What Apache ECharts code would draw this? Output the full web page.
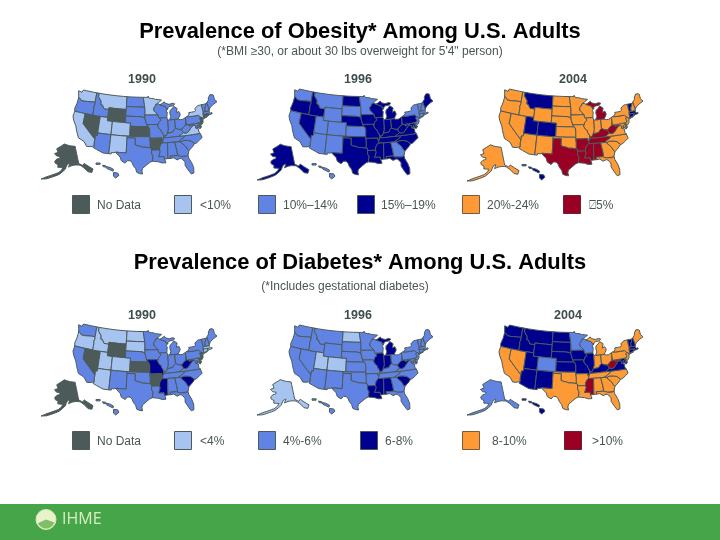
<!DOCTYPE html>
<html><head><meta charset="utf-8">
<style>html,body{margin:0;padding:0;background:#fff}#c{width:720px;height:540px}</style>
<script src="https://cdn.jsdelivr.net/npm/echarts@6/dist/echarts.min.js"></script>
</head><body><div id="c"></div>
<script>
// ---------- data (class index per state) ----------
const stateCodes = ['AL','AK','AZ','AR','CA','CO','CT','DE','FL','GA','HI','ID','IL','IN','IA','KS','KY','LA','ME','MD','MA','MI','MN','MS','MO','MT','NE','NV','NH','NJ','NM','NY','NC','ND','OH','OK','OR','PA','RI','SC','SD','TN','TX','UT','VT','VA','WA','WV','WI','WY'];
const obesity1990  = [2,0,2,0,1,1,0,0,2,2,2,2,2,2,2,0,2,2,2,2,2,2,1,2,2,1,2,0,2,0,1,1,2,2,2,2,2,2,0,2,2,2,2,1,2,1,1,2,2,0];
const obesity1996  = [3,3,2,3,2,2,2,3,3,2,2,3,3,3,3,2,3,3,3,3,2,3,2,3,3,2,3,3,2,2,2,2,3,3,3,3,3,3,2,3,2,3,3,2,2,3,2,3,3,2];
const obesity2004  = [5,4,4,5,4,3,3,4,4,4,3,4,4,4,4,4,5,5,4,4,3,5,4,5,4,3,4,4,4,4,4,4,4,4,4,4,4,4,3,4,4,5,5,3,3,4,4,5,4,4];
const diabetes1990 = [2,0,1,0,2,1,1,0,2,2,2,1,2,2,2,0,2,2,2,2,1,2,2,3,3,1,2,0,2,0,2,2,2,1,2,2,1,2,1,3,1,2,2,1,2,2,2,3,2,0];
const diabetes1996 = [3,1,2,2,2,1,2,2,2,2,2,2,3,3,2,2,2,3,2,2,2,3,2,3,2,2,2,2,2,2,2,2,2,1,2,2,2,2,2,3,2,2,2,1,2,2,2,3,2,2];
const diabetes2004 = [4,2,3,4,4,2,3,3,4,4,3,3,3,4,3,3,3,4,4,3,3,4,2,5,3,3,3,4,3,4,3,4,4,3,4,4,3,4,3,4,3,4,4,3,3,3,3,5,2,3];
const years = ['1990','1996','2004'];
const titleTexts = ['Prevalence of Obesity* Among U.S. Adults','Prevalence of Diabetes* Among U.S. Adults'];
const subtitleTexts = ['(*BMI \u226530, or about 30 lbs overweight for 5\'4" person)','(*Includes gestational diabetes)'];
const obesityLegend = ['No Data','<10%','10%\u201314%','15%\u201319%','20%-24%','\u23415%'];
const diabetesLegend = ['No Data','<4%','4%-6%','6-8%','8-10%','>10%'];

// ---------- style ----------
const classColors = ['#4c5b59','#a7c3f0','#6184e4','#00008f','#fd9a35','#9a0024'];
const swatchBorders = ['#4c5b59','#4c5b59','#4c5b59','#4c5b59','#7a5c3c','#70202c'];
const lineColor = '#4a5a5a', textColor = '#4a5555';

// ---------- base map geometry (simplified state outlines, lon/lat) ----------
const shapes = {
WA:[[[-124.7,48.4],[-123.2,48.2],[-122.8,49],[-117,49],[-117,46],[-119,45.9],[-121.2,45.65],[-122.7,45.65],[-123.5,46.25],[-124,46.3]]],
OR:[[[-124,46.3],[-123.5,46.25],[-122.7,45.65],[-121.2,45.65],[-119,45.9],[-117,46],[-116.9,45.5],[-117.2,44.4],[-117,44],[-117,42],[-120,42],[-124.2,42],[-124.5,42.8],[-124.1,44.5]]],
CA:[[[-124.2,42],[-120,42],[-120,39],[-114.6,35],[-114.7,34.2],[-114.5,33],[-114.7,32.7],[-117.1,32.5],[-118.4,33.8],[-120.6,34.5],[-121.9,36.6],[-122.5,37.8],[-123.8,39.3],[-124.4,40.4]]],
NV:[[[-120,42],[-117,42],[-114,42],[-114,37],[-114,36.2],[-114.7,36.1],[-114.6,35],[-120,39]]],
ID:[[[-117,49],[-116,49],[-116,47.9],[-114.6,46.6],[-114.5,45.6],[-113.9,45.6],[-113,44.5],[-111.05,44.5],[-111.05,42],[-114,42],[-117,42],[-117,44],[-117.2,44.4],[-116.9,45.5],[-117,46]]],
MT:[[[-116,49],[-104.05,49],[-104.05,45.94],[-104.05,45],[-111.05,45],[-111.05,44.5],[-113,44.5],[-113.9,45.6],[-114.5,45.6],[-114.6,46.6],[-116,47.9]]],
WY:[[[-111.05,45],[-104.05,45],[-104.05,43],[-104.05,41],[-109.05,41],[-111.05,41]]],
UT:[[[-114,42],[-111.05,42],[-111.05,41],[-109.05,41],[-109.05,37],[-114,37]]],
AZ:[[[-114,37],[-109.05,37],[-109.05,31.33],[-111.07,31.33],[-114.8,32.5],[-114.7,32.7],[-114.5,33],[-114.7,34.2],[-114.6,35],[-114.7,36.1],[-114,36.2]]],
CO:[[[-109.05,41],[-104.05,41],[-102.05,41],[-102.05,40],[-102.05,37],[-103,37],[-109.05,37]]],
NM:[[[-109.05,37],[-103,37],[-103,36.5],[-103,32],[-106.6,32],[-106.5,31.75],[-108.2,31.78],[-108.2,31.33],[-109.05,31.33]]],
ND:[[[-104.05,49],[-97.2,49],[-96.85,47.5],[-96.56,45.94],[-104.05,45.94]]],
SD:[[[-104.05,45.94],[-96.56,45.94],[-96.45,45.3],[-96.45,43.5],[-96.45,42.5],[-97.2,42.85],[-98.5,43],[-104.05,43],[-104.05,45]]],
NE:[[[-104.05,43],[-98.5,43],[-97.2,42.85],[-96.45,42.5],[-96.1,41.5],[-95.75,40.6],[-95.3,40],[-102.05,40],[-102.05,41],[-104.05,41]]],
KS:[[[-102.05,40],[-95.3,40],[-94.9,39.8],[-94.6,39.1],[-94.6,37],[-102.05,37]]],
OK:[[[-103,37],[-94.6,37],[-94.6,36.5],[-94.45,35.4],[-94.48,33.65],[-96,33.85],[-97.2,33.85],[-98,34.1],[-99.2,34.3],[-100,34.55],[-100,36.5],[-103,36.5]]],
TX:[[[-106.6,32],[-103,32],[-103,36.5],[-100,36.5],[-100,34.55],[-99.2,34.3],[-98,34.1],[-97.2,33.85],[-96,33.85],[-94.48,33.65],[-94.04,33.55],[-94.04,33],[-94.04,32],[-93.55,31.2],[-93.85,29.7],[-94.7,29.4],[-96,28.5],[-97.2,27.6],[-97.4,26.8],[-97.15,25.95],[-98.2,26.05],[-99.1,26.4],[-99.5,27.5],[-100.3,28.3],[-100.8,29.25],[-101.5,29.77],[-102.4,29.77],[-103.15,28.98],[-104.5,29.6],[-105,30.65],[-106.5,31.75]]],
MN:[[[-97.2,49],[-95.15,49],[-95.15,49.4],[-94.8,49.3],[-94.6,48.7],[-93,48.6],[-92,48.3],[-90.8,48.2],[-89.5,48],[-92,46.7],[-92.3,46.1],[-92.9,45.6],[-92.75,44.75],[-91.2,43.5],[-96.45,43.5],[-96.45,45.3],[-96.56,45.94],[-96.85,47.5]]],
IA:[[[-96.45,43.5],[-91.2,43.5],[-91.1,42.7],[-90.65,42.5],[-90.2,41.8],[-91.1,41.2],[-91.4,40.4],[-91.7,40.6],[-95.75,40.6],[-96.1,41.5],[-96.45,42.5]]],
MO:[[[-95.75,40.6],[-91.7,40.6],[-91.4,40.4],[-91.5,40],[-90.7,39],[-90.2,38.8],[-90.2,38.4],[-89.5,37.3],[-89.15,37],[-89.5,36.5],[-89.7,36],[-90.37,36],[-90.15,36.5],[-94.6,36.5],[-94.6,37],[-94.6,39.1],[-94.9,39.8],[-95.3,40]]],
AR:[[[-94.6,36.5],[-90.15,36.5],[-90.37,36],[-89.7,36],[-90.1,35],[-90.6,34.6],[-91.1,33.9],[-91.2,33],[-94.04,33],[-94.04,33.55],[-94.48,33.65],[-94.45,35.4]]],
LA:[[[-94.04,33],[-91.2,33],[-91,32.4],[-91.6,31],[-89.75,31],[-89.6,30.2],[-89.4,29.9],[-89.2,29.1],[-90.5,29.1],[-91.8,29.5],[-93.85,29.7],[-93.55,31.2],[-94.04,32]]],
WI:[[[-92.3,46.1],[-92,46.7],[-90.8,46.9],[-90.4,46.55],[-88.1,45.9],[-87.6,45.1],[-87,45.3],[-87.9,44.5],[-87.5,44.2],[-87.8,42.5],[-90.65,42.5],[-91.1,42.7],[-91.2,43.5],[-92.75,44.75],[-92.9,45.6]]],
IL:[[[-90.65,42.5],[-87.8,42.5],[-87.5,41.7],[-87.53,39.3],[-87.6,38.7],[-88.05,37.8],[-88.45,37.1],[-89.15,37],[-89.5,37.3],[-90.2,38.4],[-90.2,38.8],[-90.7,39],[-91.5,40],[-91.4,40.4],[-91.1,41.2],[-90.2,41.8]]],
IN:[[[-87.5,41.7],[-86.8,41.76],[-84.8,41.76],[-84.82,39.1],[-85.4,38.7],[-86,38],[-87,37.9],[-88.05,37.8],[-87.6,38.7],[-87.53,39.3]]],
MI:[[[-86.8,41.76],[-84.8,41.76],[-83.45,41.73],[-83.1,42.2],[-82.5,42.9],[-82.5,43.4],[-82.9,44.05],[-83.9,43.7],[-83.4,45],[-84.7,45.75],[-85.5,45],[-86.3,44.6],[-86.5,43.7],[-86.2,42.7]],[[-90.4,46.55],[-88.1,45.9],[-87.6,45.1],[-86.7,45.8],[-84.8,46],[-84.2,46.5],[-85,46.75],[-86.5,46.5],[-88,46.9],[-88.4,47.4],[-89.5,46.85]]],
OH:[[[-84.8,41.76],[-83.45,41.73],[-82.7,41.5],[-81.7,41.5],[-80.52,41.98],[-80.52,40.64],[-80.7,39.7],[-81.7,39.2],[-82.2,38.6],[-82.6,38.4],[-83.7,38.65],[-84.82,39.1]]],
KY:[[[-89.5,36.5],[-89.15,37],[-88.45,37.1],[-88.05,37.8],[-87,37.9],[-86,38],[-85.4,38.7],[-84.82,39.1],[-83.7,38.65],[-82.6,38.4],[-82,37.5],[-83.7,36.6],[-88.05,36.5]]],
TN:[[[-90.1,35],[-89.7,36],[-89.5,36.5],[-88.05,36.5],[-83.7,36.6],[-81.68,36.59],[-82,36.1],[-84.3,35],[-85.6,35],[-88.2,35]]],
MS:[[[-90.1,35],[-88.2,35],[-88.4,31],[-88.4,30.3],[-89.6,30.2],[-89.75,31],[-91.6,31],[-91,32.4],[-91.2,33],[-91.1,33.9],[-90.6,34.6]]],
AL:[[[-88.2,35],[-85.6,35],[-85.1,32.5],[-85,31],[-87.6,31],[-87.5,30.3],[-88.4,30.3],[-88.4,31]]],
GA:[[[-85.6,35],[-84.3,35],[-83.1,35],[-83.35,34.7],[-81.9,33.5],[-81.4,32.6],[-80.9,32],[-81.4,30.7],[-82.1,30.6],[-82.2,30.4],[-84.9,30.7],[-85,31],[-85.1,32.5]]],
FL:[[[-87.5,30.3],[-87.6,31],[-85,31],[-84.9,30.7],[-82.2,30.4],[-82.1,30.6],[-81.4,30.7],[-81.3,29.9],[-80.5,28.4],[-80.05,26.9],[-80.2,25.3],[-81.1,25.1],[-81.8,26.1],[-82.8,27.8],[-82.7,28.9],[-83.7,29.9],[-84.3,30.05],[-85.3,29.7],[-86.4,30.4]]],
SC:[[[-83.35,34.7],[-83.1,35],[-82.3,35.2],[-81,35.1],[-79.7,34.8],[-78.55,33.87],[-79.2,33.2],[-80.9,32],[-81.4,32.6],[-81.9,33.5]]],
NC:[[[-84.3,35],[-82,36.1],[-81.68,36.59],[-75.9,36.55],[-75.5,35.25],[-76.5,34.7],[-77.9,33.9],[-78.55,33.87],[-79.7,34.8],[-81,35.1],[-82.3,35.2],[-83.1,35]]],
VA:[[[-83.7,36.6],[-82,37.5],[-81.3,37.3],[-80.3,37.5],[-79.3,38.4],[-78.4,39.15],[-77.75,39.3],[-77,38.9],[-77.3,38.4],[-76.3,38],[-76.3,37],[-75.9,36.55],[-81.68,36.59]]],
WV:[[[-82.6,38.4],[-82.2,38.6],[-81.7,39.2],[-80.7,39.7],[-80.52,40.64],[-80.52,39.72],[-79.48,39.72],[-79.48,39.2],[-78.4,39.6],[-77.75,39.3],[-78.4,39.15],[-79.3,38.4],[-80.3,37.5],[-81.3,37.3],[-82,37.5]]],
MD:[[[-79.48,39.72],[-75.79,39.72],[-75.7,38.46],[-75.05,38.45],[-75.6,37.95],[-76.2,38.3],[-76.5,39.2],[-76.5,38.3],[-77.3,38.4],[-77,38.9],[-77.75,39.3],[-78.4,39.6],[-79.48,39.2]]],
DE:[[[-75.79,39.72],[-75.4,39.8],[-75.05,38.45],[-75.7,38.46]]],
PA:[[[-80.52,41.98],[-79.76,42.27],[-79.76,42],[-75.35,42],[-74.7,41.36],[-75.1,40.9],[-74.75,40.2],[-75.4,39.8],[-75.79,39.72],[-79.48,39.72],[-80.52,39.72],[-80.52,40.64]]],
NY:[[[-79.76,42],[-79.76,42.27],[-78.9,42.85],[-79,43.27],[-76.8,43.3],[-76.2,43.55],[-76.3,44.2],[-75,44.95],[-73.35,45],[-73.4,43.6],[-73.25,42.75],[-73.5,42.05],[-73.5,41.3],[-73.65,41],[-72,41.1],[-73.9,40.6],[-74,41],[-74.7,41.36],[-75.35,42]]],
NJ:[[[-74.7,41.36],[-74,41],[-74,40.4],[-74.1,39.7],[-74.9,38.95],[-75.5,39.5],[-74.75,40.2],[-75.1,40.9]]],
CT:[[[-73.5,42.05],[-71.8,42],[-71.85,41.32],[-73.65,41],[-73.5,41.3]]],
RI:[[[-71.8,42],[-71.38,42],[-71.15,41.5],[-71.85,41.32]]],
MA:[[[-73.5,42.05],[-73.25,42.75],[-72.45,42.73],[-71.3,42.7],[-70.8,42.87],[-70.6,42.65],[-71,42.3],[-70.6,41.95],[-70,42],[-70,41.65],[-71.15,41.5],[-71.38,42],[-71.8,42]]],
VT:[[[-73.35,45],[-71.5,45],[-72.4,43.6],[-72.45,42.73],[-73.25,42.75],[-73.4,43.6]]],
NH:[[[-71.5,45],[-71.1,45.3],[-70.8,43.2],[-70.7,43.05],[-70.8,42.87],[-71.3,42.7],[-72.45,42.73],[-72.4,43.6]]],
ME:[[[-71.1,45.3],[-70.3,45.9],[-70,46.7],[-69.2,47.45],[-68.3,47.35],[-67.8,47.05],[-67.8,45.7],[-67,44.85],[-68.8,44.3],[-70.2,43.6],[-70.7,43.05],[-70.8,43.2]]]
};
const alaskaShape = [[[-141,69.6],[-141,60.3],[-137.5,58.9],[-135.5,59.7],[-133.5,58.3],[-131,56.6],[-129.5,55.5],[-131.5,54],[-134.5,54.9],[-136,56.6],[-137.5,57.8],[-140,59.3],[-144,59.8],[-148,59.7],[-151.5,59],[-150,61],[-152.5,60.5],[-154,59],[-154.5,58],[-157,56.6],[-160,55],[-163,54],[-166,53],[-170,51.6],[-174,50.8],[-170,52.8],[-166,54.2],[-163,55.2],[-160.5,56],[-158,57.5],[-157,58.7],[-159,58.7],[-162,58.7],[-162,60],[-165,60.6],[-166,61.7],[-164,63],[-161,63.6],[-161,64.5],[-165,64.5],[-168,65.6],[-164,66.5],[-166.5,68.3],[-163,69.5],[-156.5,71.3],[-150,70.5]]];
const hawaiiShape = [[[-159.8,22.2],[-158.9,22.2],[-158.9,21.9],[-159.8,21.9]],[[-158.4,21.7],[-157.7,21.6],[-157.6,21.3],[-158.2,21.35]],[[-157.5,21.4],[-156.7,21.2],[-156,20.8],[-156.1,20.4],[-156.8,20.7],[-157.5,21.05]],[[-156,20.1],[-155.1,20],[-154.8,19.5],[-155.5,18.9],[-156,19.3]]];

// ---------- projection to a planar base map ----------
function albers(p1, p2, lon0, lat0) {
  const r = Math.PI / 180, n = (Math.sin(p1*r) + Math.sin(p2*r)) / 2;
  const C = Math.cos(p1*r)**2 + 2*n*Math.sin(p1*r);
  const rho = l => Math.sqrt(C - 2*n*Math.sin(l*r)) / n, rho0 = rho(lat0);
  return ([lon, lat]) => { const t = n*(lon-lon0)*r, q = rho(lat); return [q*Math.sin(t), rho0 - q*Math.cos(t)]; };
}
function densify(ring) {
  const out = [];
  ring.forEach((a, i) => {
    const b = ring[(i+1) % ring.length];
    const k = Math.max(1, Math.ceil(Math.max(Math.abs(a[0]-b[0]), Math.abs(a[1]-b[1])) / 1.5));
    for (let j = 0; j < k; j++) out.push([a[0]+(b[0]-a[0])*j/k, a[1]+(b[1]-a[1])*j/k]);
  });
  return out;
}
function fit(polys, box) { // polys: [rings], box: [x0,x1,y0,y1] (y downwards)
  const pts = polys.flat(1);
  const xs = pts.map(p => p[0]), ys = pts.map(p => p[1]);
  const x0 = Math.min(...xs), x1 = Math.max(...xs), y0 = Math.min(...ys), y1 = Math.max(...ys);
  return polys.map(r => r.map(p => [
    box[0] + (p[0]-x0)/(x1-x0)*(box[1]-box[0]),
    -(box[2] + (y1-p[1])/(y1-y0)*(box[3]-box[2]))
  ]));
}
const lower = albers(25, 35, -96, 37.5);
const lowerRings = [], lowerIndex = [];
Object.keys(shapes).forEach(k => shapes[k].forEach(r => { lowerRings.push(densify(r).map(lower)); lowerIndex.push(k); }));
const geoms = {};
fit(lowerRings, [73, 217, 90, 174]).forEach((r, i) => { (geoms[lowerIndex[i]] = geoms[lowerIndex[i]] || []).push(r); });
const akP = albers(55, 65, -154, 50);
geoms.AK = fit(alaskaShape.map(r => densify(r).map(akP)), [41, 93, 144, 179]);
geoms.HI = fit(hawaiiShape, [96, 119, 163, 178]);
const usaGeo = { type:'FeatureCollection', features: Object.keys(geoms).map(k => ({
  type:'Feature', properties:{name:k},
  geometry:{ type:'MultiPolygon', coordinates: geoms[k].map(r => [r.concat([r[0]])]) }
}))};
// each panel needs its own map name: ECharts merges map series sharing one
['a','b','c','d','e','f'].forEach(id => echarts.registerMap('usa-'+id, usaGeo));

// ---------- chart ----------
function mapSeries(id, values, left, top, width, height) {
  return {
    type:'map', map:'usa-'+id, silent:true, roam:false, aspectScale:89/height,
    left, top, width, height, selectedMode:false,
    label:{show:false}, emphasis:{disabled:true},
    itemStyle:{borderColor:lineColor, borderWidth:1, areaColor:classColors[0]},
    data: stateCodes.map((n,i) => ({ name:n, value:values[i], itemStyle:{areaColor:classColors[values[i]]} }))
  };
}
function legendRow(labels, swatchX, textX, y) {
  const out = [];
  labels.forEach((l,i) => {
    out.push({ type:'rect', silent:true, shape:{x:swatchX[i]+.5, y:y+.5, width:17, height:18},
      style:{fill:classColors[i], stroke:swatchBorders[i], lineWidth:1} });
    out.push({ type:'text', silent:true, x:textX[i], y:y+10.5,
      style:{ text:l, fill:textColor, font:'12px "Liberation Sans", "DejaVu Sans", Arial, sans-serif', verticalAlign:'middle' } });
  });
  return out;
}
const center = (text, x, y, font, fill) => ({ type:'text', silent:true, x, y,
  style:{ text, fill, font:font+' "Liberation Sans", Arial, sans-serif', align:'center', verticalAlign:'middle' } });

const graphics = [
  center(titleTexts[0], 360, 31.5, 'bold 21.9px', '#000'),
  center(subtitleTexts[0], 360, 52, '12px', textColor),
  center(titleTexts[1], 360, 262.5, 'bold 21.9px', '#000'),
  center(subtitleTexts[1], 345, 287, '12px', textColor),
  center(years[0], 142, 80, 'bold 12.5px', '#3f4d4d'),
  center(years[1], 358, 80, 'bold 12.5px', '#3f4d4d'),
  center(years[2], 573, 80, 'bold 12.5px', '#3f4d4d'),
  center(years[0], 142, 316, 'bold 12.5px', '#3f4d4d'),
  center(years[1], 358, 316, 'bold 12.5px', '#3f4d4d'),
  center(years[2], 568, 316, 'bold 12.5px', '#3f4d4d'),
  ...legendRow(obesityLegend, [72,174,258,357,462,563], [97,200,283,381,487,589], 195),
  ...legendRow(diabetesLegend, [72,174,258,360,462,564], [97,200,283,385,492,592], 431),
  { type:'rect', silent:true, shape:{x:0,y:504,width:720,height:36}, style:{fill:'#45a548'} },
  { type:'circle', silent:true, shape:{cx:46,cy:519.5,r:10}, style:{fill:'#e9f2cc', stroke:'#d5ebb0', lineWidth:1} },
  { type:'sector', silent:true, shape:{cx:46,cy:519.5,r:9,startAngle:0.35,endAngle:2.7}, style:{fill:'#7fbf68'} },
  { type:'text', silent:true, x:62, y:519.5, style:{ text:'IHME', fill:'#dcedc2', font:'16px "Open Sans", "Liberation Sans", sans-serif', verticalAlign:'middle' } }
];

const chart = echarts.init(document.getElementById('c'), null, {renderer:'canvas', width:720, height:540});
chart.setOption({
  animation:false, backgroundColor:'#fff',
  graphic:{ elements:graphics },
  series:[
    mapSeries('a', obesity1990,  41, 90, 176, 89),
    mapSeries('b', obesity1996, 257, 89, 176, 91),
    mapSeries('c', obesity2004, 467, 89, 176, 92),
    mapSeries('d', diabetes1990, 41, 324, 176, 92),
    mapSeries('e', diabetes1996,257, 325, 176, 90),
    mapSeries('f', diabetes2004,467, 325, 176, 90)
  ]
});
</script></body></html>
